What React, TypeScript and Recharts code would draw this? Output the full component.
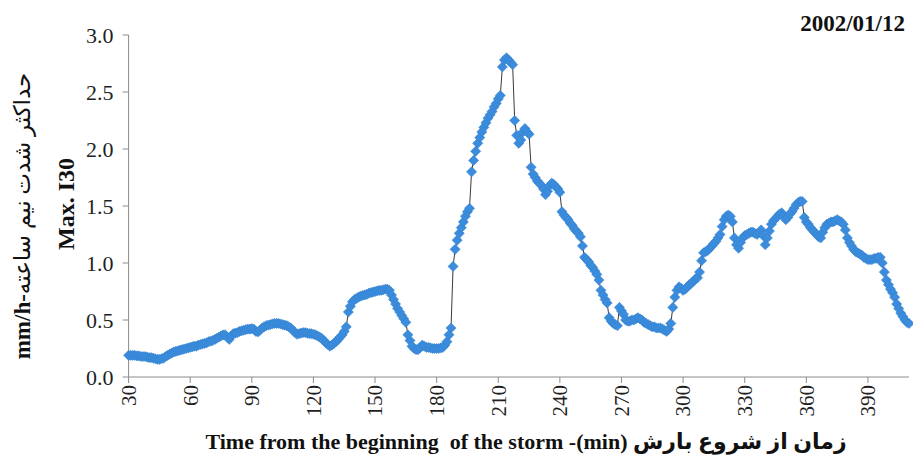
import { Line, LineChart, XAxis, YAxis } from "recharts";

// minutes since storm start, one reading per minute
const startMinute = 30;

const intensity: number[] = [
  0.19, 0.19, 0.19, 0.19, 0.185, 0.185, 0.18, 0.18, 0.18, 0.175,
  0.17, 0.17, 0.165, 0.16, 0.155, 0.155, 0.16, 0.165, 0.18, 0.19,
  0.2, 0.21, 0.22, 0.225, 0.23, 0.235, 0.24, 0.245, 0.25, 0.255,
  0.26, 0.265, 0.27, 0.27, 0.28, 0.285, 0.29, 0.295, 0.3, 0.31,
  0.315, 0.32, 0.33, 0.34, 0.35, 0.36, 0.37, 0.37, 0.35, 0.33,
  0.36, 0.38, 0.385, 0.39, 0.4, 0.405, 0.41, 0.415, 0.42, 0.42,
  0.425, 0.42, 0.4, 0.395, 0.41, 0.43, 0.44, 0.45, 0.455, 0.46,
  0.465, 0.47, 0.47, 0.47, 0.465, 0.46, 0.455, 0.45, 0.44, 0.43,
  0.41, 0.39, 0.375, 0.38, 0.385, 0.39, 0.39, 0.385, 0.38, 0.38,
  0.375, 0.37, 0.36, 0.35, 0.34, 0.32, 0.3, 0.285, 0.27, 0.28,
  0.295, 0.31, 0.33, 0.35, 0.37, 0.4, 0.44, 0.57, 0.62, 0.66,
  0.68, 0.69, 0.7, 0.71, 0.715, 0.72, 0.725, 0.735, 0.74, 0.745,
  0.75, 0.755, 0.76, 0.76, 0.765, 0.77, 0.77, 0.76, 0.72, 0.68,
  0.64, 0.6, 0.57, 0.54, 0.51, 0.48, 0.37, 0.32, 0.27, 0.25,
  0.24, 0.24, 0.26, 0.28, 0.27, 0.26, 0.26, 0.255, 0.25, 0.25,
  0.25, 0.25, 0.255, 0.26, 0.28, 0.31, 0.37, 0.43, 0.97, 1.12,
  1.2, 1.26, 1.31, 1.36, 1.41, 1.45, 1.48, 1.8, 1.9, 1.98,
  2.05, 2.1, 2.15, 2.19, 2.23, 2.27, 2.3, 2.33, 2.37, 2.4,
  2.44, 2.47, 2.72, 2.78, 2.8, 2.78, 2.76, 2.74, 2.25, 2.12,
  2.05, 2.08, 2.15, 2.18, 2.15, 2.13, 1.84, 1.78, 1.75, 1.72,
  1.7, 1.68, 1.65, 1.6, 1.63, 1.68, 1.7, 1.69, 1.67, 1.65,
  1.62, 1.45, 1.42, 1.4, 1.38, 1.35, 1.33, 1.3, 1.28, 1.26,
  1.23, 1.15, 1.05, 1.03, 1.01, 0.98, 0.96, 0.93, 0.9, 0.85,
  0.76, 0.72, 0.68, 0.65, 0.52, 0.49, 0.47, 0.46, 0.45, 0.61,
  0.58, 0.55, 0.5, 0.49, 0.49, 0.5, 0.5, 0.51, 0.52, 0.51,
  0.5, 0.48, 0.47, 0.46, 0.45, 0.44, 0.44, 0.43, 0.43, 0.43,
  0.42, 0.41, 0.4, 0.42, 0.47, 0.61, 0.7, 0.76, 0.79, 0.78,
  0.76, 0.77, 0.79, 0.81, 0.82, 0.84, 0.86, 0.87, 0.92, 1.02,
  1.09, 1.1, 1.11, 1.13, 1.15, 1.17, 1.19, 1.22, 1.25, 1.32,
  1.38, 1.41, 1.42, 1.41, 1.36, 1.22, 1.16, 1.13, 1.18, 1.22,
  1.24, 1.25, 1.26, 1.27, 1.27, 1.26, 1.25, 1.27, 1.29, 1.24,
  1.16, 1.22, 1.28, 1.34, 1.37, 1.39, 1.41, 1.43, 1.44, 1.41,
  1.38, 1.4, 1.43, 1.45, 1.48, 1.51, 1.53, 1.54, 1.54, 1.4,
  1.36, 1.34, 1.31, 1.29, 1.27, 1.25, 1.23, 1.22, 1.27, 1.31,
  1.34, 1.35, 1.36, 1.36, 1.37, 1.38, 1.37, 1.36, 1.34, 1.29,
  1.22, 1.18, 1.15, 1.12, 1.1, 1.09, 1.08, 1.07, 1.05, 1.04,
  1.03, 1.03, 1.03, 1.04, 1.04, 1.05, 1.05, 1.0, 0.92, 0.85,
  0.81, 0.77, 0.74, 0.7, 0.64, 0.6, 0.56, 0.53, 0.5, 0.48,
  0.47,
];

const xTicks = [30, 60, 90, 120, 150, 180, 210, 240, 270, 300, 330, 360, 390];
const yTicks = [0, 0.5, 1, 1.5, 2, 2.5, 3];

const data = intensity.map((v, i) => ({ t: startMinute + i, v }));

const serif = '"Liberation Serif", "Times New Roman", "DejaVu Sans", serif';
const axisGray = "#8c8c8c";

function Diamond(props: any) {
  const { cx, cy, index } = props;
  if (cx == null || cy == null) return null;
  const r = 5.1;
  return (
    <path
      key={`pt-${index}`}
      d={`M${cx},${cy - r}L${cx + r},${cy}L${cx},${cy + r}L${cx - r},${cy}Z`}
      fill="#3b8cdc"
      stroke="#3380cc"
      strokeWidth={0.5}
    />
  );
}

function RotatedTick(props: any) {
  const { x, y, payload } = props;
  return (
    <g transform={`translate(${x},${y})`}>
      <text
        x={0}
        y={0}
        dy="0.35em"
        transform="rotate(-90)"
        textAnchor="end"
        fontFamily={serif}
        fontSize={21}
        fill="#1f1f1f"
      >
        {payload.value}
      </text>
    </g>
  );
}

export default function App() {
  return (
    <div style={{ position: "absolute", left: 0, top: 0, width: 913, height: 459, background: "#fff" }}>
      <LineChart width={913} height={459} data={data} margin={{ top: 35, right: 4, bottom: 0, left: 0 }}>
        <XAxis
          dataKey="t"
          type="number"
          domain={[30, 410]}
          ticks={xTicks}
          interval={0}
          height={82}
          stroke={axisGray}
          tickSize={6}
          tickMargin={2}
          tick={<RotatedTick />}
        />
        <YAxis
          domain={[0, 3]}
          ticks={yTicks}
          width={128.6}
          stroke={axisGray}
          tickSize={6}
          tickMargin={9}
          tickFormatter={(v: number) => v.toFixed(1)}
          tick={{ fontFamily: serif, fontSize: 22, fill: "#1f1f1f" }}
        />
        <Line
          dataKey="v"
          type="linear"
          stroke="#3a3a3a"
          strokeWidth={1}
          dot={Diamond}
          activeDot={false}
          isAnimationActive={false}
        />
      </LineChart>

      <div
        style={{
          position: "absolute",
          right: 8,
          top: 11,
          fontFamily: serif,
          fontWeight: "bold",
          fontSize: 23,
          color: "#111",
        }}
      >
        2002/01/12
      </div>

      <div
        dir="ltr"
        style={{
          position: "absolute",
          left: 526,
          top: 442,
          transform: "translate(-50%, -50%)",
          whiteSpace: "nowrap",
          fontFamily: serif,
          fontWeight: "bold",
          fontSize: 22,
          color: "#111",
        }}
      >
        Time from the beginning&nbsp; of the storm -(min) زمان از شروع بارش
      </div>

      <div
        dir="ltr"
        style={{
          position: "absolute",
          left: 22,
          top: 216,
          transform: "translate(-50%, -50%) rotate(-90deg)",
          whiteSpace: "nowrap",
          fontFamily: serif,
          fontSize: 23,
          color: "#111",
        }}
      >
        <b>mm/h-</b>حداکثر شدت نیم ساعته
      </div>

      <div
        style={{
          position: "absolute",
          left: 66,
          top: 204,
          transform: "translate(-50%, -50%) rotate(-90deg)",
          whiteSpace: "nowrap",
          fontFamily: serif,
          fontWeight: "bold",
          fontSize: 24,
          color: "#111",
        }}
      >
        Max. I30
      </div>
    </div>
  );
}
